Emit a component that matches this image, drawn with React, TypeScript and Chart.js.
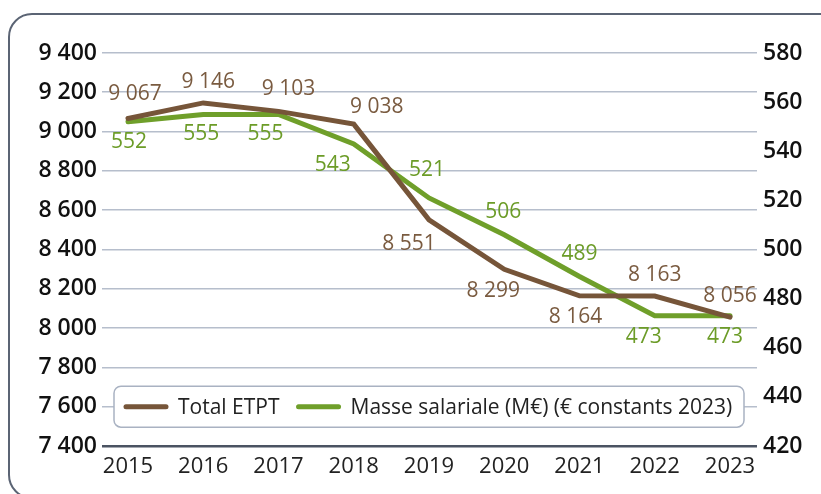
import React, { useEffect, useRef } from "react";
import { Chart, registerables } from "chart.js";

Chart.register(...registerables);

// ---- Data ----
const years = [2015, 2016, 2017, 2018, 2019, 2020, 2021, 2022, 2023];
const totalEtpt = [9067, 9146, 9103, 9038, 8551, 8299, 8164, 8163, 8056];
const masseSalariale = [552, 555, 555, 543, 521, 506, 489, 473, 473];
const seriesNames = ["Total ETPT", "Masse salariale (M€) (€ constants 2023)"];
const leftAxis = { min: 7400, max: 9400, step: 200 };
const rightAxis = { min: 420, max: 580, step: 20 };

// ---- Style ----
const BROWN = "#765539";
const GREEN = "#6f9f2a";
const BROWN_TEXT = "#7a5b40";
const GREEN_TEXT = "#6c9c28";
const FONT = "'Open Sans', 'Noto Sans', sans-serif";

// label placement offsets (dx, dy) relative to each point, in px
const etptLabelOffsets = [
  [7, -24], [5, -21], [10, -22], [23, -17], [-20, 24], [-11, 22], [-4, 21], [0, -21], [0, -21],
];
const masseLabelOffsets = [
  [1, 20], [-2, 20], [-13, 20], [-21, 21], [-2, -28], [-1, -23], [0, -23], [-11, 21], [-5, 21],
];

const fmt = (v: number) => String(v).replace(/\B(?=(\d{3})+(?!\d))/g, " ");

const dataLabelsPlugin = {
  id: "dataLabelsCustom",
  afterDatasetsDraw(chart: any) {
    const ctx = chart.ctx;
    ctx.save();
    ctx.font = `500 21px ${FONT}`;
    ctx.textAlign = "center";
    ctx.textBaseline = "middle";
    const conf = [
      { values: totalEtpt, offsets: etptLabelOffsets, color: BROWN_TEXT },
      { values: masseSalariale, offsets: masseLabelOffsets, color: GREEN_TEXT },
    ];
    conf.forEach((c, di) => {
      const meta = chart.getDatasetMeta(di);
      meta.data.forEach((pt: any, i: number) => {
        ctx.fillStyle = c.color;
        ctx.fillText(fmt(c.values[i]), pt.x + c.offsets[i][0], pt.y + c.offsets[i][1]);
      });
    });
    ctx.restore();
  },
};

const legendPlugin = {
  id: "legendInside",
  afterDraw(chart: any) {
    const ctx = chart.ctx;
    const area = chart.chartArea;
    const yScale = chart.scales.y;
    const cy = yScale.getPixelForValue(7600);
    const left = area.left + 12;
    const right = area.right - 13;
    const h = 41;
    const top = cy - h / 2;
    ctx.save();
    const r = 7;
    ctx.beginPath();
    ctx.moveTo(left + r, top);
    ctx.lineTo(right - r, top);
    ctx.arcTo(right, top, right, top + r, r);
    ctx.lineTo(right, top + h - r);
    ctx.arcTo(right, top + h, right - r, top + h, r);
    ctx.lineTo(left + r, top + h);
    ctx.arcTo(left, top + h, left, top + h - r, r);
    ctx.lineTo(left, top + r);
    ctx.arcTo(left, top, left + r, top, r);
    ctx.closePath();
    ctx.fillStyle = "#ffffff";
    ctx.fill();
    ctx.lineWidth = 1.5;
    ctx.strokeStyle = "#a9b2c2";
    ctx.stroke();

    ctx.font = `400 21px ${FONT}`;
    ctx.textBaseline = "middle";
    ctx.textAlign = "left";
    let x = left + 10;
    const colors = [BROWN, GREEN];
    seriesNames.forEach((name, i) => {
      ctx.beginPath();
      ctx.lineCap = "round";
      ctx.lineWidth = 5;
      ctx.strokeStyle = colors[i];
      ctx.moveTo(x + 2, cy);
      ctx.lineTo(x + 42, cy);
      ctx.stroke();
      x += 54;
      ctx.fillStyle = "#222222";
      ctx.fillText(name, x, cy + 1);
      x += ctx.measureText(name).width + 17;
    });
    ctx.restore();
  },
};

export default function App() {
  const canvasRef = useRef<HTMLCanvasElement | null>(null);

  useEffect(() => {
    if (!canvasRef.current) return;
    const spacing = 75.25;
    const chart = new Chart(canvasRef.current, {
      type: "line",
      data: {
        datasets: [
          {
            label: seriesNames[0],
            data: years.map((yr, i) => ({ x: yr, y: totalEtpt[i] })),
            borderColor: BROWN,
            backgroundColor: BROWN,
            borderWidth: 5,
            pointRadius: 0,
            tension: 0,
            yAxisID: "y",
            borderCapStyle: "round",
          },
          {
            label: seriesNames[1],
            data: years.map((yr, i) => ({ x: yr, y: masseSalariale[i] })),
            borderColor: GREEN,
            backgroundColor: GREEN,
            borderWidth: 5,
            pointRadius: 0,
            tension: 0,
            yAxisID: "y1",
            borderCapStyle: "round",
          },
        ],
      },
      options: {
        animation: false,
        responsive: true,
        maintainAspectRatio: false,
        layout: { padding: { top: 53, bottom: 0, left: 0, right: 0 } },
        plugins: {
          legend: { display: false },
          tooltip: { enabled: false },
        },
        scales: {
          x: {
            type: "linear",
            min: years[0] - 26 / spacing,
            max: years[years.length - 1] + 27 / spacing,
            grid: { display: false, drawTicks: false },
            border: { display: false },
            ticks: {
              stepSize: 1,
              includeBounds: false,
              padding: 8,
              color: "#222222",
              font: { family: FONT, size: 22, weight: "400" },
              callback: (v: any) => String(v),
            },
            afterFit: (s: any) => {
              s.height = 48;
            },
          },
          y: {
            type: "linear",
            position: "left",
            min: leftAxis.min,
            max: leftAxis.max,
            grid: {
              drawTicks: false,
              color: (c: any) => (c.tick && c.tick.value === leftAxis.min ? "#4b5362" : "#b6becc"),
              lineWidth: (c: any) => (c.tick && c.tick.value === leftAxis.min ? 2.5 : 1.6),
            },
            border: { display: false },
            ticks: {
              stepSize: leftAxis.step,
              padding: 5,
              color: "#111111",
              font: { family: FONT, size: 23, weight: "600" },
              callback: (v: any) => fmt(Number(v)),
            },
            afterFit: (s: any) => {
              s.width = 102;
            },
          },
          y1: {
            type: "linear",
            position: "right",
            min: rightAxis.min,
            max: rightAxis.max,
            grid: { display: false, drawTicks: false },
            border: { display: false },
            ticks: {
              stepSize: rightAxis.step,
              padding: 6,
              color: "#111111",
              font: { family: FONT, size: 23, weight: "600" },
              callback: (v: any) => fmt(Number(v)),
            },
            afterFit: (s: any) => {
              s.width = 64;
            },
          },
        },
      },
      plugins: [dataLabelsPlugin, legendPlugin],
    } as any);
    return () => chart.destroy();
  }, []);

  return (
    <div
      style={{
        position: "fixed",
        left: 0,
        top: 0,
        width: 821,
        height: 494,
        overflow: "hidden",
        background: "#ffffff",
      }}
    >
      <div
        style={{
          position: "absolute",
          left: 8,
          top: 13,
          width: 840,
          height: 486,
          boxSizing: "border-box",
          border: "2.5px solid #5b6474",
          borderRadius: 24,
        }}
      />
      <div style={{ position: "absolute", left: 0, top: 0, width: 821, height: 494 }}>
        <canvas ref={canvasRef} />
      </div>
    </div>
  );
}
